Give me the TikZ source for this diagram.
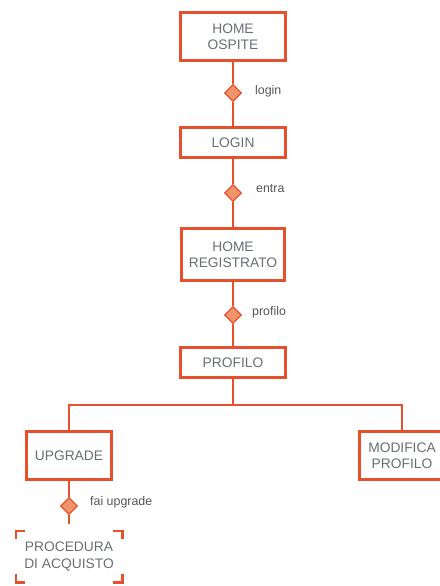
\documentclass[tikz,border=0pt]{standalone}
\usepackage{fontspec}
\setmainfont{Liberation Sans}
\usetikzlibrary{shapes.geometric}
\definecolor{ored}{HTML}{E6502A}
\definecolor{ofill}{HTML}{F0946C}
\definecolor{tgray}{HTML}{6A6E72}
\definecolor{lgray}{HTML}{555555}
\begin{document}
\begin{tikzpicture}[x=1pt,y=-1pt,
  box/.style={draw=ored, line width=2.8pt, fill=white, align=center, text=tgray,
    font=\fontsize{13.8}{16.5}\selectfont, inner sep=0pt},
  plain/.style={align=center, text=tgray, font=\fontsize{13.8}{16.5}\selectfont, inner sep=0pt},
  conn/.style={draw=ored, line width=2.4pt},
  dia/.style={diamond, aspect=1, draw=ored, fill=ofill, line width=1.2pt, minimum width=17pt, minimum height=17pt, inner sep=0pt},
  lbl/.style={anchor=west, text=lgray, font=\fontsize{12.4}{14}\selectfont, inner sep=0pt}]
\useasboundingbox (0,0) rectangle (439,586);

\node[box, minimum width=105pt, minimum height=48pt] (home) at (233,36.5) {HOME\\OSPITE};
\node[box, minimum width=105pt, minimum height=30pt] (login) at (233,142.5) {LOGIN};
\node[box, minimum width=103pt, minimum height=52pt] (reg) at (233,254.5) {HOME\\REGISTRATO};
\node[box, minimum width=105pt, minimum height=30pt] (prof) at (233,362.5) {PROFILO};
\node[box, minimum width=85pt, minimum height=48pt] (up) at (69,455.5) {UPGRADE};
\node[box, minimum width=85pt, minimum height=48pt] (mod) at (402,455.5) {MODIFICA\\PROFILO};
\node[plain, minimum width=106pt, minimum height=51pt] (proc) at (69,556.5) {PROCEDURA\\DI ACQUISTO};

\coordinate (br) at (233,405);

\node[dia] (d1) at (233,93) {};
\node[dia] (d2) at (233,193) {};
\node[dia] (d3) at (233,315) {};
\node[dia] (d4) at (69,506) {};

\draw[conn] (home.south) -- (d1.north);
\draw[conn] (d1.south) -- (login.north);
\draw[conn] (login.south) -- (d2.north);
\draw[conn] (d2.south) -- (reg.north);
\draw[conn] (reg.south) -- (d3.north);
\draw[conn] (d3.south) -- (prof.north);
\draw[conn] (prof.south) -- (br);
\draw[conn] (up.north) |- (br) -| (mod.north);
\draw[conn] (up.south) -- (d4.north);
\draw[conn, shorten >=7pt] (d4.south) -- (proc.north);

\node[lbl] (l1) at (255,91) {login};
\node[lbl] (l2) at (256,189) {entra};
\node[lbl] (l3) at (252,312) {profilo};
\node[lbl] (l4) at (90,502) {fai upgrade};

% corner brackets
\draw[ored, line width=2.6pt]
  ([xshift=9pt]proc.north west) -- (proc.north west) -- ([yshift=-8pt]proc.north west)
  ([xshift=-9pt]proc.north east) -- (proc.north east) -- ([yshift=-8pt]proc.north east)
  ([xshift=9pt]proc.south west) -- (proc.south west) -- ([yshift=8pt]proc.south west)
  ([xshift=-9pt]proc.south east) -- (proc.south east) -- ([yshift=8pt]proc.south east);
\end{tikzpicture}
\end{document}
